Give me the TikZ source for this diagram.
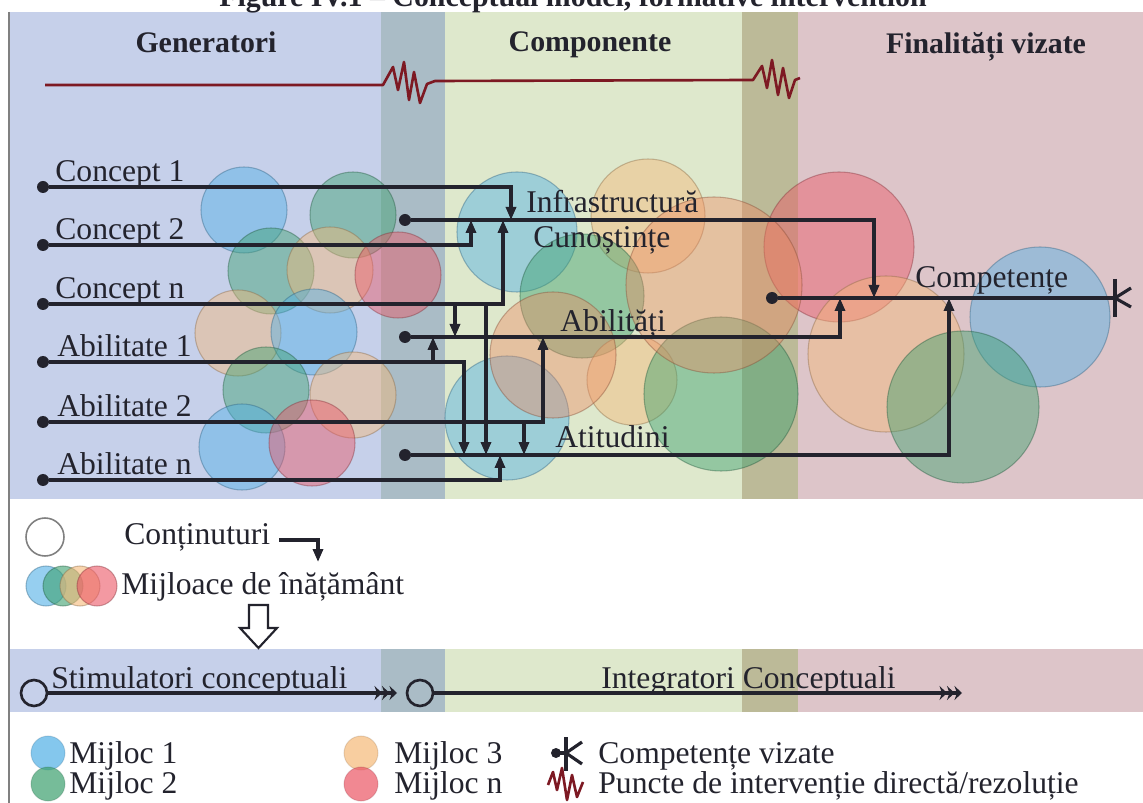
\documentclass[tikz,border=0pt]{standalone}
\usepackage{fontspec}
\setmainfont{Liberation Serif}
\usetikzlibrary{arrows.meta}

\definecolor{bgblue}{RGB}{198,208,234}
\definecolor{bgslate}{RGB}{170,188,198}
\definecolor{bggreen}{RGB}{222,232,204}
\definecolor{bgolive}{RGB}{188,186,152}
\definecolor{bgpink}{RGB}{221,197,201}
\definecolor{mblue}{RGB}{80,175,230}
\definecolor{mgreen}{RGB}{60,160,110}
\definecolor{mpeach}{RGB}{245,185,120}
\definecolor{mred}{RGB}{235,85,100}
\definecolor{msalmon}{RGB}{238,135,95}
\definecolor{ink}{RGB}{35,35,45}
\definecolor{zig}{RGB}{125,25,35}

\tikzset{
  wire/.style={draw=ink, line width=1.8pt},
  arr/.style={wire, -{Triangle[length=0.26cm,width=0.2cm]}},
  tri/.style={wire, -{Stealth[length=0.15cm,width=0.28cm]Stealth[length=0.15cm,width=0.28cm]Stealth[length=0.15cm,width=0.28cm]}},
  dot/.style={circle, fill=ink, inner sep=0pt, minimum size=0.24cm},
  ring/.style={circle, draw=ink, line width=1.5pt, inner sep=0pt, minimum size=0.52cm},
  lbl/.style={font=\fontsize{18}{20}\selectfont, text=ink, inner sep=0pt, anchor=base west},
  head/.style={font=\fontsize{17}{20}\selectfont\bfseries, text=ink, inner sep=0pt, anchor=base},
  blob/.style={fill=#1, draw=#1!55!black, fill opacity=0.45, draw opacity=0.4, line width=0.6pt},
  zigzag/.style={draw=zig, line width=1.5pt, line join=round},
}

\begin{document}
\begin{tikzpicture}[x=0.02cm, y=-0.02cm]
  \useasboundingbox (0,0) rectangle (1143,803);

  % coloured bands, main panel and lower strip
  \foreach \ya/\yb in {12/499, 649/712} {
    \fill[bgblue] (9,\ya) rectangle (381,\yb);
    \fill[bgslate] (381,\ya) rectangle (445,\yb);
    \fill[bggreen] (445,\ya) rectangle (742,\yb);
    \fill[bgolive] (742,\ya) rectangle (798,\yb);
    \fill[bgpink] (798,\ya) rectangle (1143,\yb);
  }
  \draw[gray, line width=0.9pt] (9,12) -- (9,803);

  \node[head] (title) at (573,7) {Figure IV.1 – Conceptual model, formative intervention};
  \node[head] (gen) at (206,53) {Generatori};
  \node[head] (comp) at (590,52) {Componente};
  \node[head] (fin) at (986,54) {Finalități vizate};

  % intervention line
  \draw[zigzag] (45,85) -- (383,85) -- (393,67) -- (398,90) -- (404,62) -- (409,100) -- (414,72)
    -- (420,103) -- (427,84) -- (435,81) -- (753,80) -- (762,66) -- (767,88) -- (772,60)
    -- (778,95) -- (783,68) -- (789,98) -- (795,80) -- (800,78);

  % teaching means
  \foreach \x/\y/\r/\c in {244/210/43/mblue, 353/215/43/mgreen, 271/271/43/mgreen, 330/270/43/mpeach,
      398/275/43/mred, 238/333/43/mpeach, 314/332/43/mblue, 266/390/43/mgreen, 353/395/43/mpeach,
      242/447/43/mblue, 312/443/43/mred,
      517/232/60/mblue, 648/216/57/mpeach, 582/296/62/mgreen, 632/380/45/mpeach,
      507/418/62/mblue, 721/394/77/mgreen,
      839/247/75/mred, 886/354/78/mpeach, 1040/317/70/mblue, 963/407/76/mgreen}
    \path[blob=\c] (\x,\y) circle (\r);
  \path[blob=msalmon, fill opacity=0.4] (714,285) circle (88);
  \path[blob=msalmon, fill opacity=0.4] (553,355) circle (63);

  % inputs
  \foreach \n/\y in {c1/187, c2/245, cn/304, a1/362, a2/422, an/480}
    \node[dot] (\n) at (43,\y) {};
  \foreach \n/\y in {inf/220, abi/337, att/455}
    \node[dot] (\n) at (405,\y) {};
  \node[dot] (cmp) at (772,298) {};

  \coordinate (j1) at (511,220);
  \coordinate (j2) at (471,220);
  \coordinate (j3) at (503,220);
  \coordinate (j4) at (455,337);
  \coordinate (j5) at (486,455);
  \coordinate (j6) at (464,455);
  \coordinate (j7) at (433,337);
  \coordinate (j8) at (543,337);
  \coordinate (j9) at (524,455);
  \coordinate (j10) at (500,455);
  \coordinate (k1) at (874,298);
  \coordinate (k2) at (840,298);
  \coordinate (k3) at (949,298);
  \coordinate (kend) at (1115,298);

  \draw[arr] (c1) -| (j1);
  \draw[arr] (c2) -| (j2);
  \draw[arr] (cn) -| (j3);
  \draw[arr] (j4 |- cn) -- (j4);
  \draw[arr] (j5 |- cn) -- (j5);
  \draw[arr] (a1) -| (j6);
  \draw[arr] (j7 |- a1) -- (j7);
  \draw[arr] (a2) -| (j8);
  \draw[arr] (j9 |- a2) -- (j9);
  \draw[arr] (an) -| (j10);
  \draw[arr] (inf) -| (k1);
  \draw[arr] (abi) -| (k2);
  \draw[arr] (att) -| (k3);
  \draw[wire] (cmp) -- (kend);
  \draw[wire] (kend) ++(0,-19) -- ++(0,38);
  \draw[wire] (1131,288) -- (kend) -- (1131,307);

  \foreach \n/\x/\y/\t in {lc1/55/182/Concept 1, lc2/55/240/Concept 2, lcn/55/299/Concept n,
      la1/57/357/Abilitate 1, la2/57/417/Abilitate 2, lan/57/475/Abilitate n,
      linf/526/213/Infrastructură, lcun/533/248/Cunoștințe, labi/560/332/Abilități,
      latt/555/448/Atitudini, lcmp/915/288/Competențe}
    \node[lbl] (\n) at (\x,\y) {\t};

  % legend
  \node[circle, draw=gray, line width=0.9pt, minimum size=0.76cm, inner sep=0pt] (empty) at (45,537) {};
  \node[lbl] (cont) at (124,545) {Conținuturi};
  \coordinate (ka) at (279,540);
  \coordinate (kb) at (318,562);
  \draw[arr] (ka) -| (kb);
  \foreach \x/\c in {46/mblue, 63/mgreen, 80/mpeach, 97/mred}
    \path[blob=\c, fill opacity=0.6] (\x,586) circle (20);
  \node[lbl] (mij) at (121,595) {Mijloace de înățământ};
  \draw[ink, line width=1.2pt, line join=miter, fill=white] (249,605) -- (268,605) -- (268,628) -- (277,628)
    -- (258.5,648) -- (240,628) -- (249,628) -- cycle;

  % lower strip
  \node[ring] (s1) at (34,693) {};
  \node[ring] (s2) at (420,693) {};
  \coordinate (s1e) at (397,693);
  \coordinate (s2e) at (962,693);
  \draw[tri] (s1) -- (s1e);
  \draw[tri] (s2) -- (s2e);
  \node[lbl] (stim) at (51,688) {Stimulatori conceptuali};
  \node[lbl] (integ) at (601,688) {Integratori Conceptuali};

  % key
  \foreach \x/\y/\c in {48/753/mblue, 48/784/mgreen, 361/753/mpeach, 361/784/mred}
    \path[blob=\c, fill opacity=0.7, draw opacity=0.2] (\x,\y) circle (17);
  \node[lbl] (m1) at (69,763) {Mijloc 1};
  \node[lbl] (m2) at (69,793) {Mijloc 2};
  \node[lbl] (m3) at (394,763) {Mijloc 3};
  \node[lbl] (mn) at (394,793) {Mijloc n};
  \fill[ink] (556,753) circle (5);
  \draw[wire] (556,753) -- (566,753);
  \draw[wire] (566,737) -- (566,771);
  \draw[wire] (582,742) -- (566,753) -- (582,764);
  \node[lbl] (kcmp) at (598,763) {Competențe vizate};
  \draw[zigzag] (548,785) -- (553,772) -- (557,790) -- (562,768) -- (567,800) -- (572,775)
    -- (577,797) -- (583,782);
  \node[lbl] (kzig) at (598,793) {Puncte de intervenție directă/rezoluție};
\end{tikzpicture}
\end{document}
